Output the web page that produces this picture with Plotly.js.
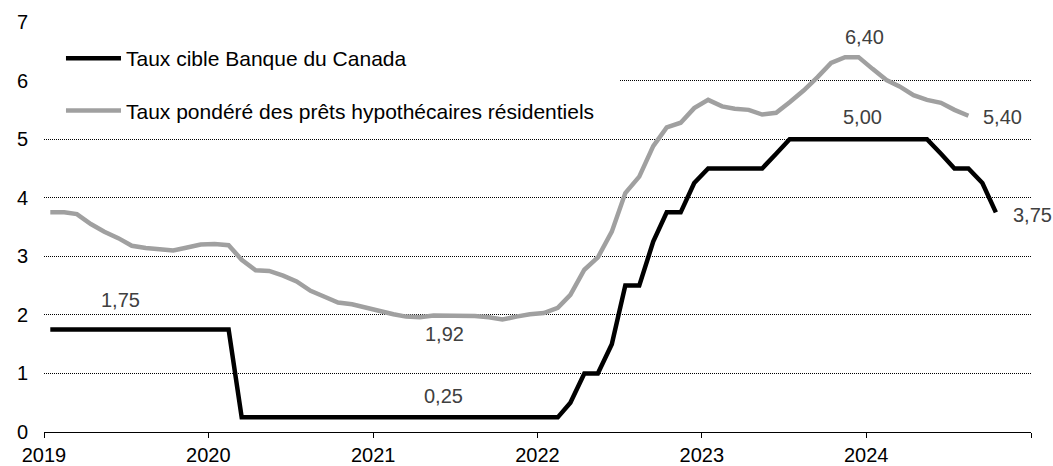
<!DOCTYPE html>
<html>
<head>
<meta charset="utf-8">
<script src="https://cdn.plot.ly/plotly-3.0.1.min.js"></script>
<style>
  html, body { margin: 0; padding: 0; background: #fff; }
  #chart { width: 1053px; height: 466px; }
</style>
</head>
<body>
<div id="chart"></div>
<script>
// ---- Data (monthly, Jan 2019 onward) ----
const startYear = 2019;

const seriesNames = [
  "Taux cible Banque du Canada",
  "Taux pondéré des prêts hypothécaires résidentiels"
];

// Bank of Canada target rate, Jan 2019 - Oct 2024
const policyRate = [
  1.75, 1.75, 1.75, 1.75, 1.75, 1.75, 1.75, 1.75, 1.75, 1.75, 1.75, 1.75,
  1.75, 1.75, 0.25, 0.25, 0.25, 0.25, 0.25, 0.25, 0.25, 0.25, 0.25, 0.25,
  0.25, 0.25, 0.25, 0.25, 0.25, 0.25, 0.25, 0.25, 0.25, 0.25, 0.25, 0.25,
  0.25, 0.25, 0.50, 1.00, 1.00, 1.50, 2.50, 2.50, 3.25, 3.75, 3.75, 4.25,
  4.50, 4.50, 4.50, 4.50, 4.50, 4.75, 5.00, 5.00, 5.00, 5.00, 5.00, 5.00,
  5.00, 5.00, 5.00, 5.00, 5.00, 4.75, 4.50, 4.50, 4.25, 3.75
];

// Weighted residential mortgage rate, Jan 2019 - Aug 2024
const mortgageRate = [
  3.75, 3.75, 3.72, 3.55, 3.42, 3.31, 3.18, 3.14, 3.12, 3.10, 3.15, 3.20,
  3.21, 3.19, 2.94, 2.76, 2.75, 2.67, 2.57, 2.41, 2.31, 2.21, 2.18, 2.12,
  2.06, 2.01, 1.97, 1.96, 1.99, 1.99, 1.99, 1.98, 1.96, 1.92, 1.97, 2.01,
  2.03, 2.12, 2.34, 2.77, 2.98, 3.42, 4.08, 4.36, 4.88, 5.20, 5.28, 5.53,
  5.67, 5.56, 5.52, 5.50, 5.42, 5.45, 5.63, 5.83, 6.06, 6.30, 6.40, 6.40,
  6.20, 6.01, 5.90, 5.75, 5.67, 5.62, 5.50, 5.40
];

const yearTicks = ["2019", "2020", "2021", "2022", "2023", "2024", "2025"];
const yearTickText = ["2019", "2020", "2021", "2022", "2023", "2024", ""];

// ---- Helpers ----
function monthDates(y0, n) {
  const out = [];
  for (let i = 0; i < n; i++) {
    const y = y0 + Math.floor(i / 12);
    const m = (i % 12) + 1;
    out.push(y + "-" + String(m).padStart(2, "0") + "-15");
  }
  return out;
}
const fmt = v => v.toFixed(2).replace(".", ",");

const policyDates = monthDates(startYear, policyRate.length);
const mortgageDates = monthDates(startYear, mortgageRate.length);

const FONT = '"Liberation Sans", Arial, sans-serif';

const traces = [
  {
    x: policyDates, y: policyRate, type: "scatter", mode: "lines",
    name: seriesNames[0], legendgroup: "a",
    line: { color: "#000000", width: 4.5 },
    hoverinfo: "skip"
  },
  {
    x: mortgageDates, y: mortgageRate, type: "scatter", mode: "lines",
    name: seriesNames[1], legendgroup: "b",
    line: { color: "#a0a0a0", width: 4.5 },
    hoverinfo: "skip"
  }
];

const maxMortgage = Math.max(...mortgageRate);
const minMortgageLater = Math.min(...mortgageRate.slice(24, 40));
const maxPolicy = Math.max(...policyRate);

const labelFont = { family: FONT, size: 20, color: "#404040" };
const ann = (text, x, y, xanchor) => ({
  text, x, y, xref: "x", yref: "y", showarrow: false,
  xanchor: xanchor || "center", yanchor: "middle", font: labelFont
});

const layout = {
  width: 1053, height: 466,
  margin: { l: 44, r: 22, t: 22, b: 34, pad: 0 },
  paper_bgcolor: "#ffffff", plot_bgcolor: "#ffffff",
  font: { family: FONT, size: 20, color: "#000" },
  showlegend: true,
  legend: {
    x: 0.0172, y: 0.961, xanchor: "left", yanchor: "top",
    bgcolor: "rgba(0,0,0,0)", borderwidth: 0,
    traceorder: "grouped", tracegroupgap: 22, itemwidth: 55,
    font: { family: FONT, size: 21, color: "#000" }
  },
  xaxis: {
    type: "date",
    range: ["2019-01-01", "2025-01-01"],
    tickmode: "array", tickvals: yearTicks, ticktext: yearTickText,
    ticks: "outside", ticklen: 5, tickwidth: 1, tickcolor: "#000",
    showline: true, linecolor: "#000", linewidth: 1,
    showgrid: false, zeroline: false,
    tickfont: { family: FONT, size: 20, color: "#000" },
    ticklabelstandoff: 0,
    fixedrange: true
  },
  yaxis: {
    range: [0, 7], dtick: 1, tick0: 0,
    showgrid: true, gridcolor: "#000", gridwidth: 1, griddash: "1px,1px",
    zeroline: false, showline: false, ticks: "",
    tickfont: { family: FONT, size: 20, color: "#000" },
    ticklabelstandoff: 15,
    fixedrange: true
  },
  shapes: [
    {
      type: "rect", xref: "paper", yref: "paper", layer: "above",
      x0: -0.01, x1: 0.5836, y0: 0.749, y1: 0.968,
      fillcolor: "#ffffff", line: { width: 0 }
    }
  ],
  annotations: [
    ann(fmt(policyRate[0]), "2019-06-19", 2.26),
    ann(fmt(policyRate[20]), "2021-06-07", 0.61),
    ann(fmt(minMortgageLater), "2021-06-09", 1.68),
    ann(fmt(maxPolicy), "2023-12-24", 5.385),
    ann(fmt(maxMortgage), "2023-12-29", 6.75),
    ann(fmt(mortgageRate[mortgageRate.length - 1]), "2024-10-30", 5.375),
    ann(fmt(policyRate[policyRate.length - 1]), "2024-11-17", 3.71, "left")
  ]
};

Plotly.newPlot("chart", traces, layout, { displayModeBar: false, staticPlot: true });
</script>
</body>
</html>
